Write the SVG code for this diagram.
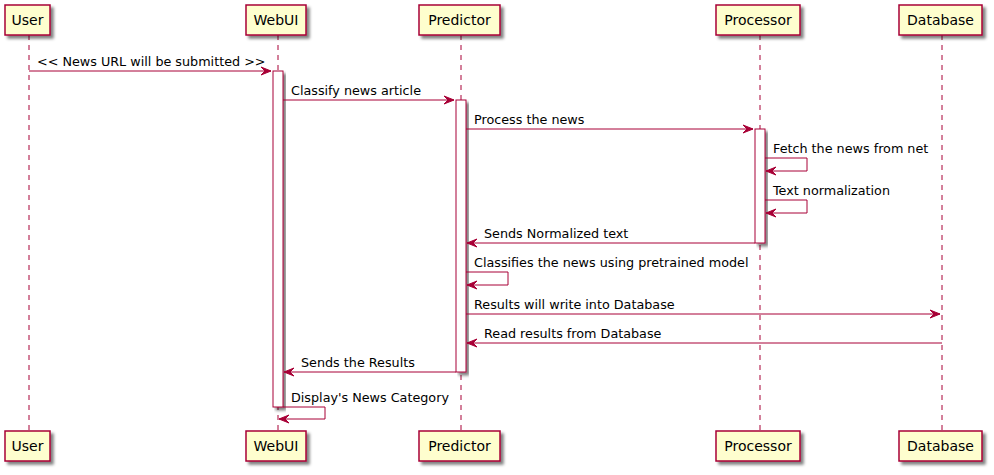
<svg xmlns="http://www.w3.org/2000/svg" width="994" height="475" viewBox="0 0 994 475">
<defs>
<filter id="sh" x="-20%" y="-20%" width="150%" height="150%">
<feGaussianBlur in="SourceAlpha" stdDeviation="1.5"/>
<feOffset dx="3" dy="3" result="b"/>
<feComponentTransfer><feFuncA type="linear" slope="0.5"/></feComponentTransfer>
<feMerge><feMergeNode/><feMergeNode in="SourceGraphic"/></feMerge>
</filter>
</defs>
<style>
.life{stroke:#A80036;stroke-width:1;stroke-dasharray:5,5;fill:none}
.pbox{fill:#FEFECE;stroke:#A80036;stroke-width:1.5;filter:url(#sh)}
.act{fill:#FFFFFF;stroke:#A80036;stroke-width:1;filter:url(#sh)}
.pt{font-family:"DejaVu Sans",sans-serif;font-size:14px;fill:#000;text-anchor:middle}
.msg{stroke:#A80036;stroke-width:1;fill:none}
.ah{fill:#A80036;stroke:#A80036;stroke-width:1}
.mt{font-family:"DejaVu Sans",sans-serif;font-size:12.75px;fill:#000}
</style>
<rect width="994" height="475" fill="#FFFFFF"/>
<g id="lifelines">
<line class="life" x1="29" y1="35" x2="29" y2="431"/>
<line class="life" x1="278" y1="35" x2="278" y2="431"/>
<line class="life" x1="461" y1="35" x2="461" y2="431"/>
<line class="life" x1="760" y1="35" x2="760" y2="431"/>
<line class="life" x1="942" y1="35" x2="942" y2="431"/>
</g>
<g id="activations">
<rect class="act" x="273" y="71" width="10" height="336"/>
<rect class="act" x="456" y="100" width="10" height="272"/>
<rect class="act" x="755" y="129" width="10" height="114"/>
</g>
<g id="User">
<rect class="pbox" x="5" y="5" width="45" height="30"/>
<text class="pt" x="27.5" y="25">User</text>
<rect class="pbox" x="5" y="431" width="45" height="30"/>
<text class="pt" x="27.5" y="451">User</text>
</g>
<g id="WebUI">
<rect class="pbox" x="246" y="5" width="60" height="30"/>
<text class="pt" x="276" y="25">WebUI</text>
<rect class="pbox" x="246" y="431" width="60" height="30"/>
<text class="pt" x="276" y="451">WebUI</text>
</g>
<g id="Predictor">
<rect class="pbox" x="419" y="5" width="81" height="30"/>
<text class="pt" x="459.5" y="25">Predictor</text>
<rect class="pbox" x="419" y="431" width="81" height="30"/>
<text class="pt" x="459.5" y="451">Predictor</text>
</g>
<g id="Processor">
<rect class="pbox" x="716" y="5" width="84" height="30"/>
<text class="pt" x="758" y="25">Processor</text>
<rect class="pbox" x="716" y="431" width="84" height="30"/>
<text class="pt" x="758" y="451">Processor</text>
</g>
<g id="Database">
<rect class="pbox" x="899" y="5" width="83" height="30"/>
<text class="pt" x="940.5" y="25">Database</text>
<rect class="pbox" x="899" y="431" width="83" height="30"/>
<text class="pt" x="940.5" y="451">Database</text>
</g>
<g id="connectors">
<line class="msg" x1="29" y1="71" x2="271" y2="71"/>
<polygon class="ah" points="261,67 271,71 261,75 265,71"/>
<text class="mt" x="37" y="66">&lt;&lt; News URL will be submitted &gt;&gt;</text>

<line class="msg" x1="283" y1="100" x2="454" y2="100"/>
<polygon class="ah" points="444,96 454,100 444,104 448,100"/>
<text class="mt" x="291" y="95">Classify news article</text>

<line class="msg" x1="466" y1="129" x2="753" y2="129"/>
<polygon class="ah" points="743,125 753,129 743,133 747,129"/>
<text class="mt" x="474" y="124">Process the news</text>

<polyline class="msg" points="765,158 807,158 807,171 766,171"/>
<polygon class="ah" points="776,167 766,171 776,175 772,171"/>
<text class="mt" x="773" y="153">Fetch the news from net</text>

<polyline class="msg" points="765,200 807,200 807,213 766,213"/>
<polygon class="ah" points="776,209 766,213 776,217 772,213"/>
<text class="mt" x="773" y="195">Text normalization</text>

<line class="msg" x1="755" y1="243" x2="467" y2="243"/>
<polygon class="ah" points="477,239 467,243 477,247 473,243"/>
<text class="mt" x="484" y="238">Sends Normalized text</text>

<polyline class="msg" points="466,272 508,272 508,285 467,285"/>
<polygon class="ah" points="477,281 467,285 477,289 473,285"/>
<text class="mt" x="474" y="267">Classifies the news using pretrained model</text>

<line class="msg" x1="466" y1="314" x2="940" y2="314"/>
<polygon class="ah" points="930,310 940,314 930,318 934,314"/>
<text class="mt" x="474" y="309">Results will write into Database</text>

<line class="msg" x1="942" y1="343" x2="467" y2="343"/>
<polygon class="ah" points="477,339 467,343 477,347 473,343"/>
<text class="mt" x="484" y="338">Read results from Database</text>

<line class="msg" x1="456" y1="372" x2="284" y2="372"/>
<polygon class="ah" points="294,368 284,372 294,376 290,372"/>
<text class="mt" x="301" y="367">Sends the Results</text>

<polyline class="msg" points="283,407 325,407 325,419 279,419"/>
<polygon class="ah" points="289,415 279,419 289,423 285,419"/>
<text class="mt" x="291" y="402">Display's News Category</text>
</g>
</svg>
